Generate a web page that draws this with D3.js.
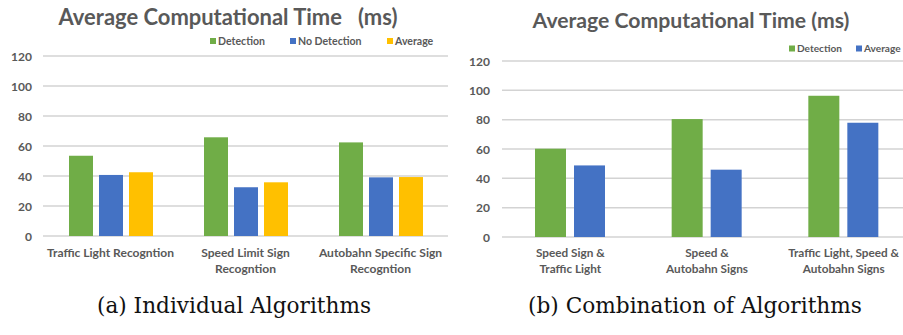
<!DOCTYPE html>
<html>
<head>
<meta charset="utf-8">
<script src="https://cdn.jsdelivr.net/npm/d3@7/dist/d3.min.js"></script>
<style>
html,body{margin:0;padding:0;background:#fff;overflow:hidden;}
svg{display:block;}
</style>
</head>
<body>
<svg id="chart" width="903" height="335"></svg>
<script>
// ---------- data ----------
const yTicks = [0, 20, 40, 60, 80, 100, 120];

const categoriesA = ["Traffic Light Recogntion", "Speed Limit Sign\nRecogntion", "Autobahn Specific Sign\nRecogntion"];
const seriesA = ["Detection", "No Detection", "Average"];
const detectionA = [53.5, 65.8, 62.4];
const noDetectionA = [40.7, 32.5, 39.1];
const averageA = [42.5, 35.8, 39.3];

const categoriesB = ["Speed Sign &\nTraffic Light", "Speed &\nAutobahn Signs", "Traffic Light, Speed &\nAutobahn Signs"];
const seriesB = ["Detection", "Average"];
const detectionB = [60.2, 80.4, 96.3];
const averageB = [48.8, 45.9, 77.9];

const titleA = "Average Computational Time   (ms)";
const titleB = "Average Computational Time (ms)";
const captionA = "(a) Individual Algorithms";
const captionB = "(b) Combination of Algorithms";

// ---------- style ----------
const colors = {"Detection": "#70AD47", "No Detection": "#4472C4", "Average": "#FFC000"};
const colorsB = {"Detection": "#70AD47", "Average": "#4472C4"};
const textColor = "#595959";
const gridColor = "#D3D3D3";
const sansFont = "Lato, 'Open Sans', sans-serif";
const serifFont = "'DejaVu Serif', 'Liberation Serif', serif";

const svg = d3.select("#chart");
svg.append("rect").attr("width", 903).attr("height", 335).attr("fill", "#fff");

function fit(sel, target) {
  const w = sel.node().getComputedTextLength();
  const fs = parseFloat(sel.attr("font-size"));
  sel.attr("font-size", (fs * target / w).toFixed(2));
  return parseFloat(sel.attr("font-size"));
}

function drawChart(cfg) {
  const g = svg.append("g");
  const y = d3.scaleLinear().domain([0, 120]).range([cfg.y0, cfg.y120]);
  const x0 = d3.scaleBand().domain(cfg.categories).range([cfg.xL, cfg.xR]).padding(0);
  const x1 = d3.scaleBand().domain(cfg.series).range(cfg.innerRange).paddingInner(cfg.innerPad).paddingOuter(0);

  // gridlines
  g.append("g").selectAll("line").data(yTicks).join("line")
    .attr("x1", cfg.xL).attr("x2", cfg.gridR)
    .attr("y1", d => y(d)).attr("y2", d => y(d))
    .attr("stroke", gridColor).attr("stroke-width", 1.5);

  // y-axis labels
  const yAxis = d3.axisLeft(y).tickValues(yTicks).tickSize(0).tickPadding(0);
  const ya = g.append("g").attr("transform", `translate(${cfg.yLabelX},0)`).call(yAxis);
  ya.select(".domain").remove();
  ya.selectAll("text").attr("fill", textColor).attr("font-family", sansFont)
    .attr("font-weight", "bold").attr("font-size", 12).attr("dy", "0.35em");

  // bars
  const rows = cfg.categories.map((c, i) => ({cat: c, vals: cfg.series.map((s, j) => ({s, v: cfg.values[j][i]}))}));
  g.append("g").selectAll("g").data(rows).join("g")
    .attr("transform", d => `translate(${x0(d.cat)},0)`)
    .selectAll("rect").data(d => d.vals).join("rect")
    .attr("x", d => x1(d.s)).attr("width", x1.bandwidth())
    .attr("y", d => y(d.v)).attr("height", d => y(0) - y(d.v))
    .attr("fill", d => cfg.colors[d.s]);

  // x labels
  const labs = g.append("g").selectAll("text").data(cfg.categories).join("text")
    .attr("x", d => x0(d) + x0.bandwidth() / 2)
    .attr("y", cfg.labelY)
    .attr("text-anchor", "middle")
    .attr("fill", textColor).attr("font-family", sansFont).attr("font-weight", "bold")
    .attr("font-size", 12);
  labs.each(function(d) {
    const lines = d.split("\n");
    d3.select(this).selectAll("tspan").data(lines).join("tspan")
      .attr("x", x0(d) + x0.bandwidth() / 2)
      .attr("dy", (l, i) => i === 0 ? 0 : 16)
      .text(l => l);
  });
  // fit label font to reference width
  const ref = labs.filter((d, i) => i === cfg.fitLabelIndex);
  const tmp = g.append("text").attr("font-family", sansFont).attr("font-weight", "bold")
    .attr("font-size", 12).text(cfg.fitLabelText);
  const fs = fit(tmp, cfg.fitLabelWidth);
  tmp.remove();
  labs.attr("font-size", fs);

  // title
  const t = g.append("text").attr("x", cfg.titleX).attr("y", cfg.titleY)
    .attr("text-anchor", "middle").attr("fill", textColor)
    .attr("font-family", sansFont).attr("font-weight", "bold").attr("font-size", 22)
    .style("white-space", "pre").text(cfg.title);
  fit(t, cfg.titleW);

  // legend
  const lg = g.append("g");
  cfg.legend.forEach((item, i) => {
    lg.append("rect").attr("x", item.x).attr("y", cfg.legendY - 3).attr("width", 6).attr("height", 6)
      .attr("fill", cfg.colors[item.s]);
    const tx = lg.append("text").attr("x", item.x + 8).attr("y", cfg.legendY).attr("dy", "0.35em")
      .attr("fill", textColor).attr("font-family", sansFont).attr("font-weight", "bold")
      .attr("font-size", 11).text(item.s);
    if (i === 0) cfg._lfs = fit(tx, cfg.legendFitW);
    else tx.attr("font-size", cfg._lfs);
  });

  // caption
  const c = svg.append("text").attr("x", cfg.capX).attr("y", cfg.capY).attr("text-anchor", "middle")
    .attr("fill", "#111").attr("font-family", serifFont).attr("font-size", 20).text(cfg.caption);
  fit(c, cfg.capW);
}

drawChart({
  categories: categoriesA, series: seriesA, values: [detectionA, noDetectionA, averageA], colors: colors,
  xL: 43, xR: 448, gridR: 448, y0: 236, y120: 56, innerRange: [26, 110], innerPad: 0.2,
  yLabelX: 32, labelY: 257, fitLabelIndex: 0, fitLabelText: "Traffic Light Recogntion", fitLabelWidth: 127,
  title: titleA, titleX: 228, titleY: 25, titleW: 339,
  legendY: 41, legendFitW: 47,
  legend: [{s: "Detection", x: 210}, {s: "No Detection", x: 290}, {s: "Average", x: 387}],
  caption: captionA, capX: 234, capY: 313, capW: 274
});

drawChart({
  categories: categoriesB, series: seriesB, values: [detectionB, averageB], colors: colorsB,
  xL: 502, xR: 912, gridR: 903, y0: 237, y120: 61, innerRange: [33, 103], innerPad: 8 / 39,
  yLabelX: 490, labelY: 257, fitLabelIndex: 2, fitLabelText: "Traffic Light, Speed &", fitLabelWidth: 111,
  title: titleB, titleX: 691, titleY: 28, titleW: 317,
  legendY: 48.5, legendFitW: 45,
  legend: [{s: "Detection", x: 789}, {s: "Average", x: 856}],
  caption: captionB, capX: 695, capY: 313, capW: 334
});
</script>
</body>
</html>
